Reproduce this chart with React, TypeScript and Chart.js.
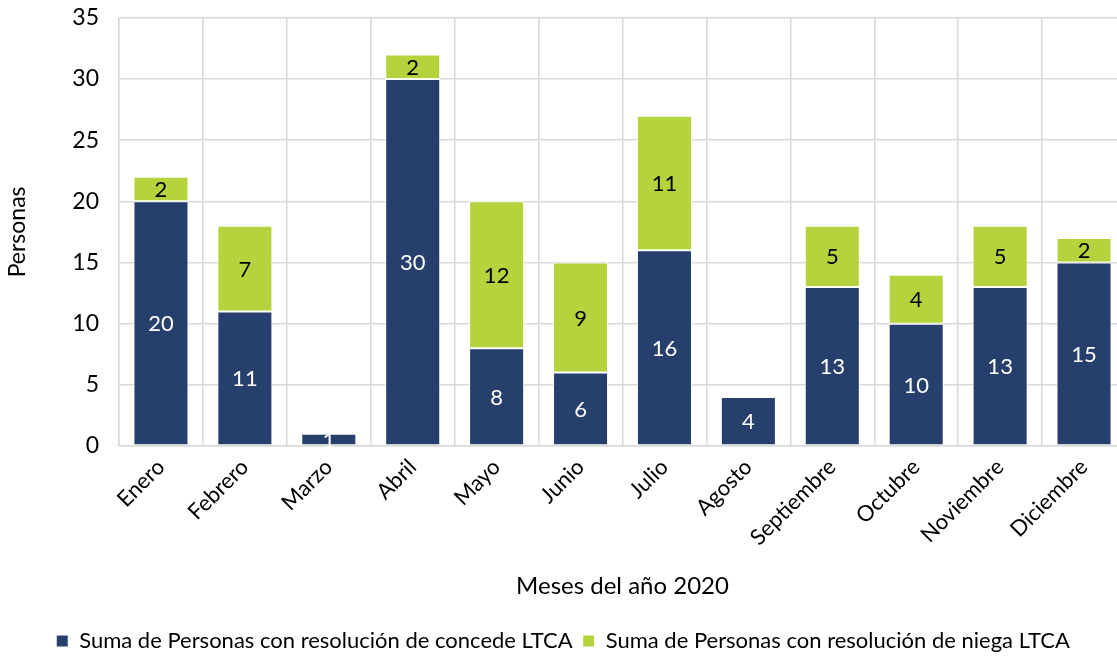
import React, { useEffect, useRef } from "react";
import { Chart, registerables } from "chart.js";

Chart.register(...registerables);

const months = ["Enero", "Febrero", "Marzo", "Abril", "Mayo", "Junio", "Julio", "Agosto", "Septiembre", "Octubre", "Noviembre", "Diciembre"];
const concede = [20, 11, 1, 30, 8, 6, 16, 4, 13, 10, 13, 15];
const niega = [2, 7, 0, 2, 12, 9, 11, 0, 5, 4, 5, 2];
const seriesNames = ["Suma de Personas con resolución de concede LTCA", "Suma de Personas con resolución de niega LTCA"];
const yTicks = [0, 5, 10, 15, 20, 25, 30, 35];

const NAVY = "#263F6C";
const GREEN = "#B5D33D";
const FONT = "Lato";
const SHIFT_TOP = 16;
const EXTRA_BOTTOM = 4;

const labelPlugin = {
  id: "segLabels",
  afterDatasetsDraw(chart: any) {
    const ctx = chart.ctx;
    ctx.save();
    ctx.font = `22px ${FONT}`;
    ctx.textAlign = "center";
    ctx.textBaseline = "middle";
    chart.data.datasets.forEach((ds: any, di: number) => {
      const meta = chart.getDatasetMeta(di);
      meta.data.forEach((el: any, i: number) => {
        const v = ds.data[i];
        if (!v) return;
        ctx.fillStyle = di === 0 ? "#ffffff" : "#000000";
        ctx.fillText(String(v), el.x, (el.y + el.base) / 2 + 1);
      });
    });
    ctx.restore();
  },
};

export default function App() {
  const ref = useRef<HTMLCanvasElement>(null);
  useEffect(() => {
    document.body.style.margin = "0";
    document.body.style.overflow = "hidden";
    const chart = new Chart(ref.current!, {
      type: "bar",
      data: {
        labels: months,
        datasets: [
          { label: seriesNames[0], data: concede, backgroundColor: NAVY, borderColor: "#ffffff", borderWidth: 1, borderSkipped: false },
          { label: seriesNames[1], data: niega, backgroundColor: GREEN, borderColor: "#ffffff", borderWidth: 1, borderSkipped: false },
        ],
      },
      options: {
        responsive: false,
        animation: false,
        layout: { padding: { top: 4, right: 0, left: 0, bottom: 0 } },
        datasets: { bar: { barPercentage: 0.656, categoryPercentage: 1 } },
        plugins: {
          tooltip: { enabled: false },
          legend: {
            position: "bottom",
            labels: { font: { family: FONT, size: 22 }, color: "#000", boxWidth: 12, boxHeight: 12, padding: 10 },
          },
        },
        scales: {
          x: {
            stacked: true,
            afterFit: (s: any) => { s.height = 174; },
            grid: { color: "#D9D9D9", lineWidth: 1.5, drawTicks: false, offset: true },
            border: { color: "#D9D9D9", width: 1.5 },
            ticks: { font: { family: FONT, size: 22 }, color: "#000", maxRotation: 45, minRotation: 45, padding: 8 },
            title: { display: true, text: "Meses del año 2020", font: { family: FONT, size: 24 }, color: "#000", padding: { top: 4, bottom: 19 } },
          },
          y: {
            stacked: true,
            min: 0,
            max: 35,
            afterFit: (s: any) => { s.width = 119; },
            afterBuildTicks: (s: any) => { s.ticks = yTicks.map((v) => ({ value: v })); },
            grid: { color: "#D9D9D9", lineWidth: 1.5, drawTicks: false },
            border: { color: "#D9D9D9", width: 1.5 },
            ticks: { font: { family: FONT, size: 23 }, color: "#000", padding: 20 },
            title: { display: true, text: "Personas", font: { family: FONT, size: 23 }, color: "#000", padding: { top: 4, bottom: 0 } },
          },
        },
      },
      plugins: [labelPlugin],
    });
    return () => chart.destroy();
  }, []);
  return (
    <div style={{ width: 1117, height: 658, position: "relative", overflow: "hidden" }}>
      <canvas
        ref={ref}
        width={1126}
        height={658 + SHIFT_TOP + EXTRA_BOTTOM}
        style={{ display: "block", position: "absolute", left: 0, top: -SHIFT_TOP }}
      />
    </div>
  );
}
